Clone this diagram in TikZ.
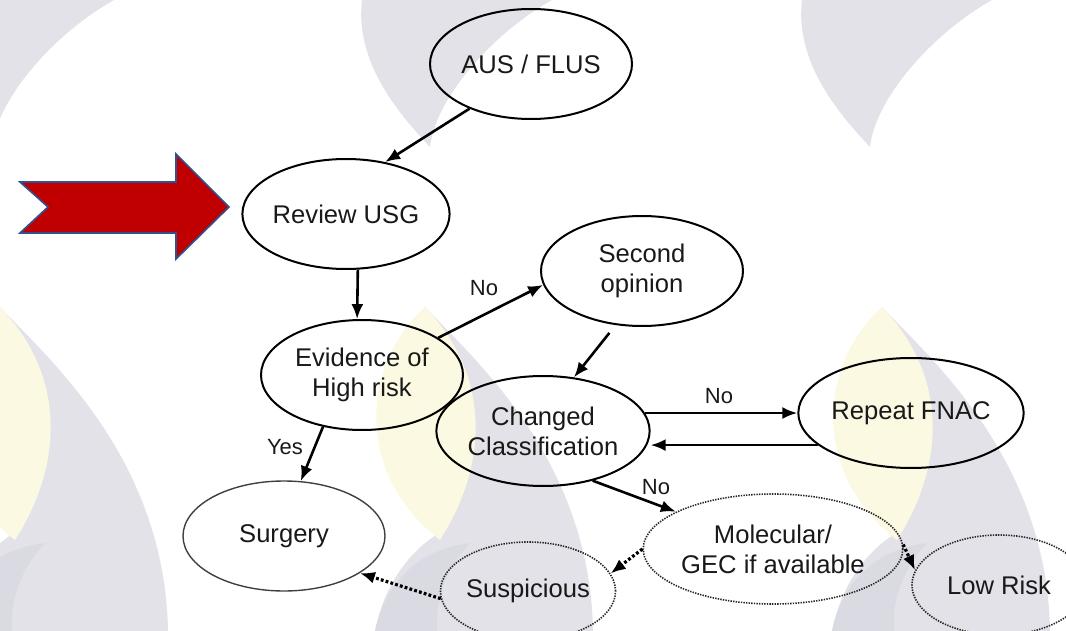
\documentclass[tikz,border=0pt]{standalone}
\usepackage{fontspec}
\setmainfont{Liberation Sans}
\usetikzlibrary{arrows.meta,shapes.geometric}

\definecolor{wmgray}{RGB}{226,226,232}
\definecolor{wmdark}{RGB}{218,218,226}
\definecolor{wmyellow}{RGB}{251,249,226}
\definecolor{arrowred}{RGB}{192,0,0}
\definecolor{arrowblue}{RGB}{47,82,143}

% watermark flames (tip pointing down, top row)
\newcommand{\wmtop}[1]{%
  \fill[wmgray] ({#1-68},0) .. controls ({#1-75},60) and ({#1-35},110) .. (#1,147)
    .. controls ({#1+5},100) and ({#1+60},35) .. ({#1+122},0) -- cycle;}
% watermark logo (yellow and grey flame, bottom row)
\newcommand{\wmlogo}[1]{%
  \fill[wmgray] (#1,307) .. controls ({#1+50},360) and ({#1+165},460) .. ({#1+168},631)
    -- ({#1-50},631) .. controls ({#1-40},580) and ({#1-10},545) .. ({#1+20},530) -- cycle;
  \fill[wmdark] ({#1-50},631) .. controls ({#1-40},585) and ({#1-10},550) .. ({#1+45},543)
    .. controls ({#1+20},570) and ({#1+10},600) .. ({#1+12},631) -- cycle;
  \fill[wmyellow] (#1,307) .. controls ({#1-60},360) and ({#1-75},470) .. ({#1+15},540)
    .. controls ({#1+60},470) and ({#1+70},380) .. (#1,307) -- cycle;}

\begin{document}
\begin{tikzpicture}
	[x=0.5pt,y=-0.5pt,
	 state/.style={draw,ellipse,line width=1pt,minimum width=101pt,minimum height=55pt,
	   inner sep=0pt,align=center,text=black!90,font=\fontsize{12.8}{15}\selectfont},
	 option/.style={state,line width=0.8pt,dash pattern=on 0.7pt off 0.6pt,draw=black!85},
	 flow/.style={-{Latex[length=7.5pt,width=6pt]},line width=1.3pt},
	 maybe/.style={-{Latex[length=7.5pt,width=6pt]},line width=1.6pt,dash pattern=on 1.4pt off 1.1pt},
	 answer/.style={text=black!90,font=\fontsize{11}{13}\selectfont}]
	\useasboundingbox (0,0) rectangle (1066,631);

	% background watermark
	\wmtop{-8}
	\wmtop{430}
	\wmtop{870}
	\wmlogo{0}
	\wmlogo{425}
	\wmlogo{882}

	% pointer
	\draw[fill=arrowred,draw=arrowblue,line width=0.8pt] (20,182) -- (176,182) -- (176,154)
	  -- (229,207) -- (176,259) -- (176,233) -- (20,233) -- (48,207) -- cycle;

	% states
	\node[state] (aus) at (531,64) {AUS / FLUS};
	\node[state] (review) at (346,214) {Review USG};
	\node[state] (second) at (642,271) {Second\\opinion};
	\node[state] (evid) at (362,375) {Evidence of\\High risk};
	\node[state] (changed) at (543,431) {Changed\\Classification};
	\node[state] (repeat) at (911,413) {Repeat FNAC};
	\node[state,line width=0.7pt,draw=black!75] (surgery) at (284,536) {Surgery};

	% optional states
	\node[option] (molec) at (773,549) {Molecular/\\GEC if available};
	\node[option,minimum width=86pt,minimum height=49pt] (susp) at (528,591) {Suspicious};
	\node[option,minimum width=87pt,minimum height=50pt] (lowrisk) at (999,585) {Low Risk};

	% labels
	\node[answer] (no1) at (484,288) {No};
	\node[answer] (no2) at (719,396) {No};
	\node[answer] (no3) at (656,487) {No};
	\node[answer] (yes) at (285,447) {Yes};

	% flow
	\draw[flow] (aus.216) -- (review.53);
	\draw[flow] (review.-78) -- (evid.95);
	\draw[flow] (evid.26) -- (second.188);
	\draw[flow,shorten <=5pt] (second.244) -- (changed.60);
	\draw[flow] (changed.10) -- (changed.10 -| repeat.west);
	\draw[flow] (repeat.199) -- (repeat.199 -| changed.east);
	\draw[flow] (changed.-45) -- (molec.159);
	\draw[flow] (evid.233) -- (surgery.73);

	% dotted outcomes
	\draw[maybe] (molec.180) -- (susp.12);
	\draw[maybe] (molec.2) -- (lowrisk.170);
	\draw[maybe] (susp.185) -- (surgery.-26);
\end{tikzpicture}
\end{document}
